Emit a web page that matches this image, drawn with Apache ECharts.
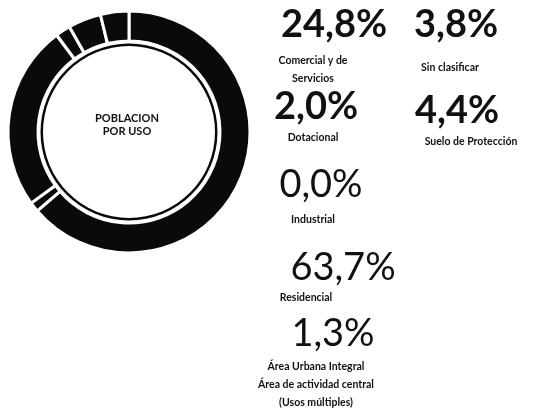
<!DOCTYPE html>
<html>
<head>
<meta charset="utf-8">
<script src="https://cdn.jsdelivr.net/npm/echarts@6/dist/echarts.min.js"></script>
<style>
  html, body { margin: 0; padding: 0; background: #fff; }
  #chart { width: 533px; height: 412px; }
</style>
</head>
<body>
<div id="chart"></div>
<script>
// categorías en el orden del anillo (en sentido horario desde arriba)
const usos = ['Residencial', 'Área Urbana Integral', 'Comercial y de Servicios', 'Industrial', 'Dotacional', 'Suelo de Protección', 'Sin clasificar']
const porcentajes = [63.7, 1.3, 24.8, 0.0, 2.0, 4.4, 3.8]
// texto de cada etiqueta (líneas)
const etiquetas = [
    ['Residencial'],
    ['Área Urbana Integral', 'Área de actividad central', '(Usos múltiples)'],
    ['Comercial y de', 'Servicios'],
    ['Industrial'],
    ['Dotacional'],
    ['Suelo de Protección'],
    ['Sin clasificar'],
]

// posiciones de los textos a la derecha: [x num, y num, x etiqueta, y etiqueta, negrita]
const layout = {
    'Comercial y de Servicios': [334, 25, 313, 70, true],
    'Sin clasificar': [456, 25, 450, 68, true],
    'Dotacional': [316, 107, 313, 138, true],
    'Suelo de Protección': [457, 111, 471, 142, true],
    'Industrial': [321, 185, 313, 220, false],
    'Residencial': [343, 268, 306, 298, false],
    'Área Urbana Integral': [333, 334, 316, 385, false],
}

const fmt = (v) => v.toFixed(1).replace('.', ',') + '%'

const graphics = [
    {
        type: 'text',
        x: 127,
        y: 125,
        style: {
            text: 'POBLACION\nPOR USO',
            font: 'bold 11px Lato',
            lineHeight: 13,
            fill: '#111',
            align: 'center',
            verticalAlign: 'middle',
        },
    },
]
usos.forEach((name, i) => {
    const p = layout[name]
    if (!p) return
    graphics.push({
        type: 'text',
        x: p[0],
        y: p[1],
        style: {
            text: fmt(porcentajes[i]),
            font: `${p[4] ? 'bold ' : ''}38px Lato`,
            fill: '#111',
            align: 'center',
            verticalAlign: 'middle',
        },
    })
    graphics.push({
        type: 'text',
        x: p[2],
        y: p[3],
        style: {
            text: etiquetas[i].join('\n'),
            font: 'bold 10.5px Lato',
            lineHeight: 18,
            fill: '#111',
            align: 'center',
            verticalAlign: 'middle',
        },
    })
})

const chart = echarts.init(document.getElementById('chart'))

const option = {
    animation: false,
    graphic: graphics,
    series: [
        {
            name: 'Población por uso',
            type: 'pie',
            center: [129, 132],
            radius: [91, 121],
            startAngle: 90,
            clockwise: true,
            silent: true,
            label: { show: false },
            labelLine: { show: false },
            itemStyle: {
                color: '#0a0a0a',
                borderColor: '#fff',
                borderWidth: 3,
            },
            data: usos.map((name, i) => ({ name, value: porcentajes[i] })),
        },
        {
            // línea fina interior del anillo
            type: 'pie',
            center: [129, 132],
            radius: [86, 88.5],
            silent: true,
            label: { show: false },
            labelLine: { show: false },
            itemStyle: { color: '#0a0a0a' },
            data: [{ name: 'total', value: porcentajes.reduce((a, b) => a + b, 0) }],
        },
    ],
}

chart.setOption(option)
</script>
</body>
</html>
